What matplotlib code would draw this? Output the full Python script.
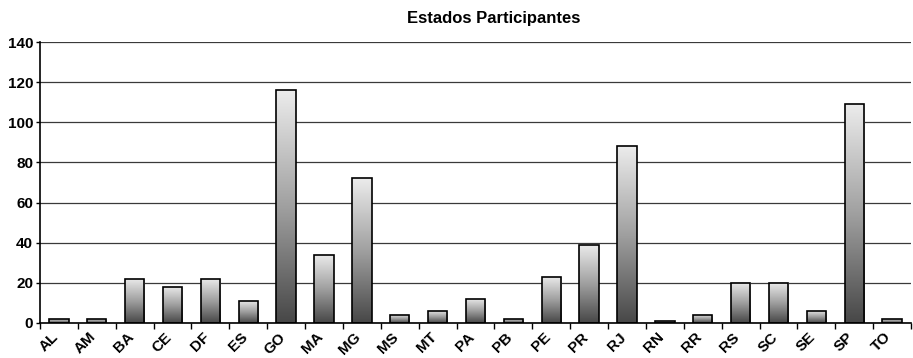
import numpy as np
import matplotlib
matplotlib.use("Agg")
import matplotlib.pyplot as plt
import matplotlib.transforms as mtransforms
from matplotlib.colors import LinearSegmentedColormap

estados = ["AL", "AM", "BA", "CE", "DF", "ES", "GO", "MA", "MG", "MS", "MT", "PA",
           "PB", "PE", "PR", "RJ", "RN", "RR", "RS", "SC", "SE", "SP", "TO"]
participantes = [2, 2, 22, 18, 22, 11, 116, 34, 72, 4, 6, 12,
                 2, 23, 39, 88, 1, 4, 20, 20, 6, 109, 2]

plt.rcParams["font.family"] = ["Liberation Sans", "DejaVu Sans"]
plt.rcParams["font.weight"] = "bold"

fig = plt.figure(figsize=(9.13, 3.58), dpi=100)
ax = fig.add_axes([40 / 913, 35 / 358, 871 / 913, 281 / 358])

x = np.arange(len(estados))
largura = 0.51
barras = ax.bar(x, participantes, width=largura, color="none",
                edgecolor="black", linewidth=1.2, zorder=3)

# degradê vertical: escuro embaixo, claro em cima
cinzas = LinearSegmentedColormap.from_list("cinzas", ["#474747", "#a0a0a0", "#ececec"])
grad = np.linspace(0, 1, 256).reshape(-1, 1)
for b in barras:
    x0, y0 = b.get_x(), b.get_y()
    w, h = b.get_width(), b.get_height()
    im = ax.imshow(grad, cmap=cinzas, origin="lower", aspect="auto",
                   extent=[x0, x0 + w, y0, y0 + h], zorder=2)
    im.set_clip_path(b)

ax.set_xlim(-0.5, len(estados) - 0.5)
ax.set_ylim(0, 140)
ax.set_yticks(range(0, 141, 20))
ax.yaxis.grid(True, color="#3a3a3a", linewidth=0.9, zorder=0)
ax.set_axisbelow(True)

ax.set_xticks(x)
ax.set_xticklabels(estados, rotation=45, ha="right", rotation_mode="anchor")
ax.tick_params(axis="x", length=0, pad=5, labelsize=11)
# desloca os rótulos um pouco para a esquerda
desloc = mtransforms.ScaledTranslation(-8 / 100, 0, fig.dpi_scale_trans)
for rot in ax.get_xticklabels():
    rot.set_transform(rot.get_transform() + desloc)
ax.set_xticks(np.arange(-0.5, len(estados), 1), minor=True)
ax.tick_params(axis="x", which="minor", length=4, width=1, direction="out")
ax.tick_params(axis="y", length=3, width=1, labelsize=11, pad=2)

for lado in ["top", "right"]:
    ax.spines[lado].set_visible(False)
ax.spines["left"].set_linewidth(1.2)
ax.spines["bottom"].set_linewidth(1.2)

fig.text(494 / 913, 1 - 18 / 358, "Estados Participantes", ha="center", va="center",
         fontsize=12, fontweight="bold")

fig.savefig("out.png", dpi=100)
